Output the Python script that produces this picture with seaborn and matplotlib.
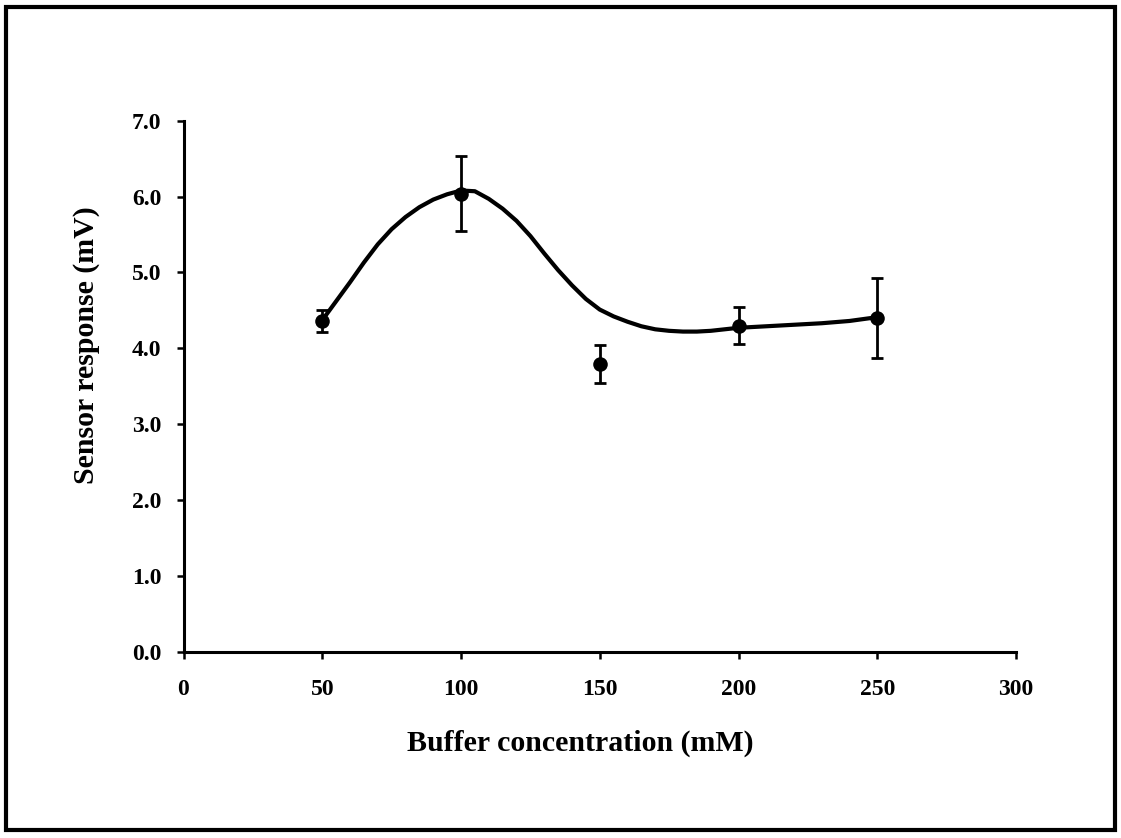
import matplotlib
matplotlib.use("Agg")
import matplotlib.pyplot as plt
import seaborn as sns
import pandas as pd
from matplotlib.patches import Rectangle

# Measured data
conc = [50, 100, 150, 200, 250]
response = [4.36, 6.04, 3.79, 4.30, 4.40]
err = [0.14, 0.49, 0.25, 0.25, 0.53]

# Smoothed trend curve
curve_x = [50, 55, 60, 65, 70, 75, 80, 85, 90, 95, 100, 105, 110, 115, 120, 125, 130,
           135, 140, 145, 150, 155, 160, 165, 170, 175, 180, 185, 190, 195, 200,
           210, 220, 230, 240, 250]
curve_y = [4.37, 4.62, 4.87, 5.13, 5.37, 5.57, 5.73, 5.86, 5.96, 6.03, 6.08, 6.07, 5.97,
           5.84, 5.68, 5.48, 5.25, 5.03, 4.83, 4.65, 4.51, 4.42, 4.35, 4.29, 4.25, 4.23,
           4.22, 4.22, 4.23, 4.25, 4.27, 4.29, 4.31, 4.33, 4.36, 4.41]

xticks = [0, 50, 100, 150, 200, 250, 300]
yticks = [0.0, 1.0, 2.0, 3.0, 4.0, 5.0, 6.0, 7.0]

sns.set_theme(style="ticks")
plt.rcParams['font.family'] = ['Liberation Serif', 'DejaVu Serif']
plt.rcParams['font.weight'] = 'bold'
plt.rcParams['text.color'] = 'black'
plt.rcParams['axes.labelcolor'] = 'black'
plt.rcParams['xtick.color'] = 'black'
plt.rcParams['ytick.color'] = 'black'

W, H = 1121, 838
fig = plt.figure(figsize=(W / 100, H / 100), dpi=100)
fig.patch.set_facecolor('white')
ax = fig.add_axes([183.5 / W, 1 - 651.7 / H, (1016 - 183.5) / W, (651.7 - 120.7) / H])

pts = pd.DataFrame({'x': conc, 'y': response})
curve = pd.DataFrame({'x': curve_x, 'y': curve_y})

sns.lineplot(data=curve, x='x', y='y', ax=ax, color='black', linewidth=3.0, sort=True)
ax.errorbar(conc, response, yerr=err, fmt='none', ecolor='black', elinewidth=2.0,
            capsize=4.5, capthick=2.0, zorder=3)
sns.scatterplot(data=pts, x='x', y='y', ax=ax, color='black', s=110, marker='o',
                edgecolor='black', linewidth=0, zorder=4)

ax.set_xlim(0, 300)
ax.set_ylim(0, 7)
ax.set_xticks(xticks)
ax.set_xticklabels([str(v) for v in xticks])
ax.set_yticks(yticks)
ax.set_yticklabels([f"{v:.1f}" for v in yticks])

for s in ['top', 'right']:
    ax.spines[s].set_visible(False)
for s in ['left', 'bottom']:
    ax.spines[s].set_linewidth(2.2)
    ax.spines[s].set_color('black')

ax.tick_params(axis='x', direction='out', length=5, width=1.8, pad=15, labelsize=17, colors='black')
ax.tick_params(axis='y', direction='out', length=5, width=1.8, pad=11, labelsize=17, colors='black')
for lab in ax.get_xticklabels() + ax.get_yticklabels():
    lab.set_fontweight('bold')
    lab.set_color('black')

ax.set_xlabel('Buffer concentration (mM)', fontsize=21.5, fontweight='bold', color='black')
ax.set_ylabel('Sensor response (mV)', fontsize=21.5, fontweight='bold', color='black')
ax.xaxis.label.set_va('center')
ax.yaxis.label.set_va('center')
ax.xaxis.set_label_coords(0.477, -0.173)
ax.yaxis.set_label_coords(-0.116, 0.578)

# Figure frame
fig.patches.append(Rectangle((6 / W, 1 - 830 / H), (1115 - 6) / W, (830 - 7) / H,
                             transform=fig.transFigure, fill=False, edgecolor='black',
                             linewidth=3.0, zorder=10))

fig.savefig('out.png', dpi=100, facecolor='white')
